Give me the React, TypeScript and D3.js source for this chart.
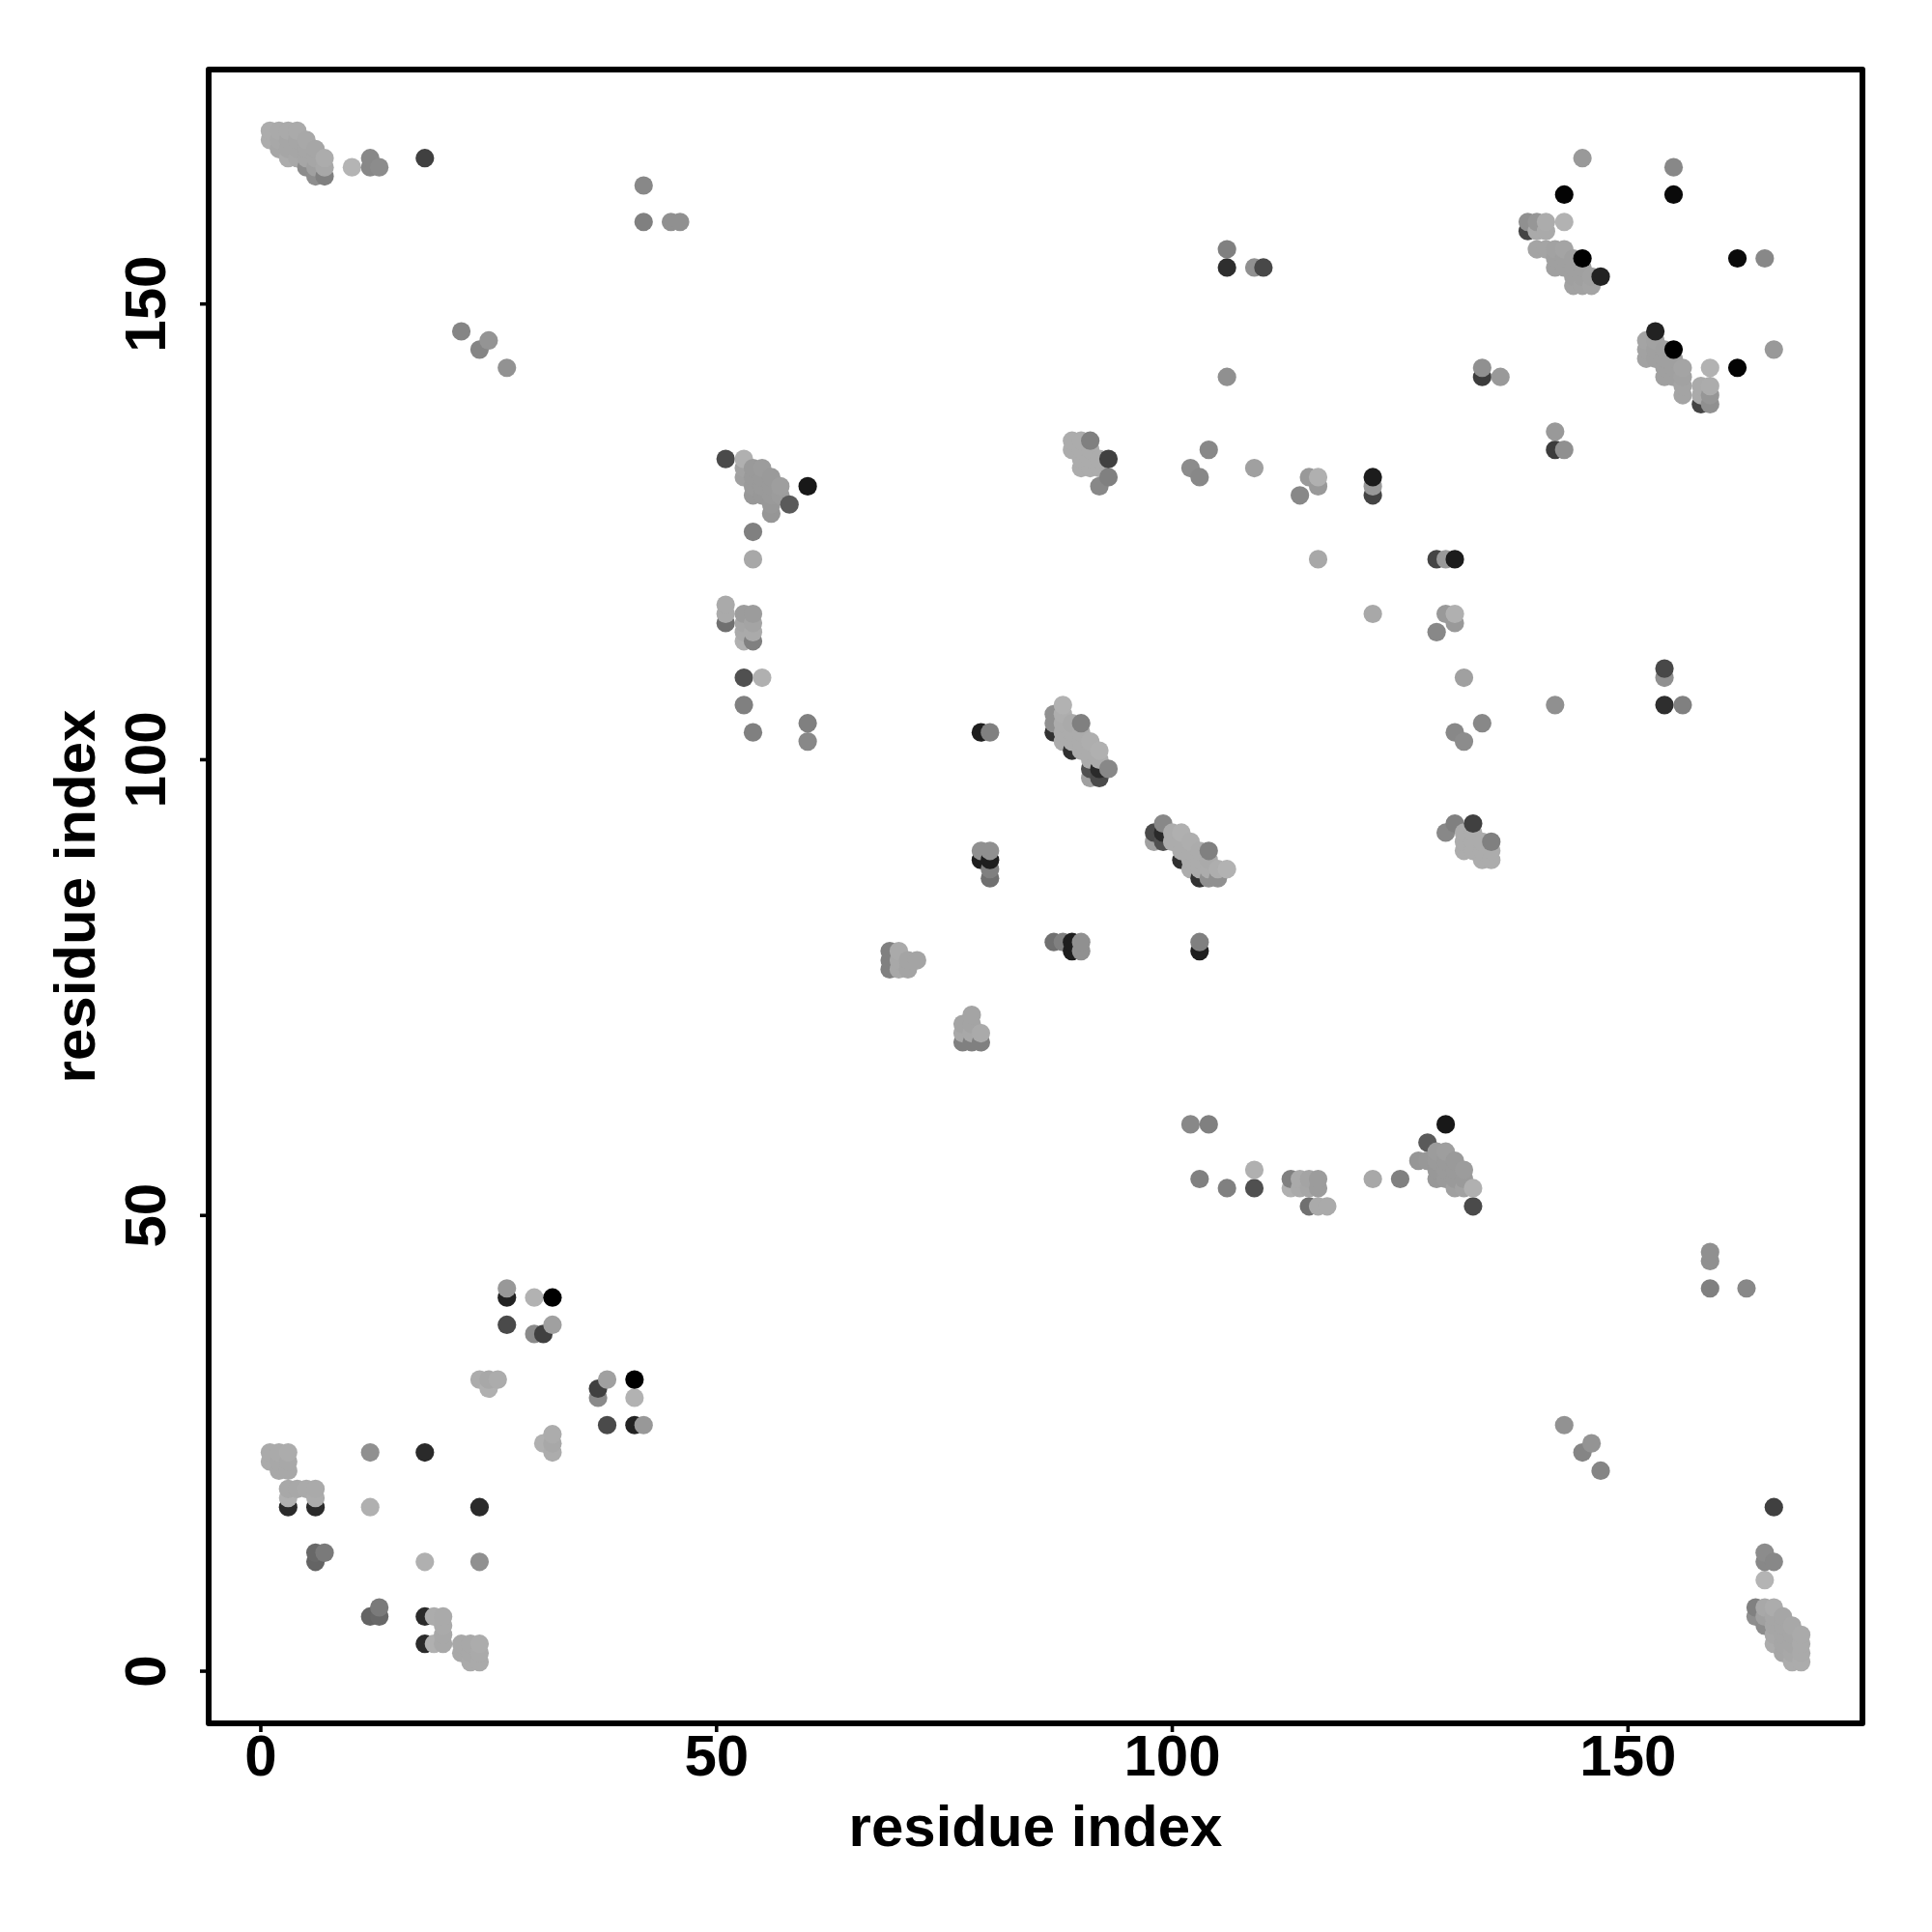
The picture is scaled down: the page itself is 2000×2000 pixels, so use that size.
import { useEffect, useRef } from "react";
import * as d3 from "d3";

// contacts are [residue i, residue j, shade], i < j; the map is symmetric so each one is drawn twice
const cornerContacts = [
  [1, 168, 172], [1, 169, 172], [2, 167, 166], [2, 168, 168], [2, 169, 170], [3, 166, 172],
  [3, 167, 166], [3, 168, 166], [3, 169, 170], [4, 166, 168], [4, 167, 166], [4, 168, 166],
  [4, 169, 170], [5, 165, 140], [5, 166, 166], [5, 167, 166], [5, 168, 168], [6, 164, 142],
  [6, 165, 160], [6, 166, 166], [6, 167, 166], [7, 164, 128], [7, 165, 168], [7, 166, 172],
  [10, 165, 180], [12, 165, 136], [12, 166, 136], [13, 165, 140], [18, 166, 64],
  [42, 159, 128], [42, 163, 136], [45, 159, 144], [46, 159, 144],
  [22, 147, 133], [24, 145, 133], [25, 146, 148], [27, 143, 146],
];

const lowContacts = [
  [1, 23, 170], [1, 24, 170], [2, 22, 168], [2, 23, 168], [2, 24, 170], [3, 22, 168],
  [3, 23, 168], [3, 24, 172], [3, 18, 42], [3, 19, 176], [3, 20, 168], [4, 20, 168],
  [5, 20, 170], [6, 18, 42], [6, 19, 172], [6, 20, 170], [6, 12, 100], [6, 13, 104],
  [7, 13, 122], [12, 18, 176], [12, 24, 144], [18, 24, 42],
  [24, 32, 172], [25, 31, 176], [25, 32, 168], [26, 32, 172],
  [27, 38, 74], [27, 41, 34], [27, 42, 152], [30, 37, 138], [30, 41, 178],
  [31, 37, 64], [32, 38, 160], [32, 41, 0],
];

const contacts50 = [
  [51, 133, 74], [53, 131, 160], [53, 132, 162], [53, 133, 176], [54, 129, 152], [54, 130, 154],
  [54, 131, 154], [54, 132, 154], [55, 129, 152], [55, 130, 154], [55, 131, 154], [55, 132, 156],
  [56, 127, 150], [56, 128, 152], [56, 129, 154], [56, 130, 154], [56, 131, 154], [57, 129, 156],
  [57, 130, 158], [58, 128, 90], [60, 130, 24], [54, 125, 128], [54, 122, 168],
  [51, 115, 112], [51, 116, 170], [51, 117, 170], [53, 113, 176], [53, 114, 170], [53, 115, 166],
  [53, 116, 156], [54, 113, 128], [54, 114, 170], [54, 115, 164], [54, 116, 156],
  [53, 106, 128], [53, 109, 80], [55, 109, 176], [54, 103, 128], [60, 102, 136], [60, 104, 128],
];

const contacts70 = [
  [69, 77, 128], [69, 78, 128], [69, 79, 128], [70, 77, 168], [70, 78, 168], [70, 79, 170],
  [71, 77, 164], [71, 78, 164], [72, 78, 164],
  [79, 89, 30], [79, 90, 144], [80, 87, 112], [80, 88, 128], [80, 89, 30], [80, 90, 144],
  [79, 103, 30], [80, 103, 128], [79, 103, 30],
];

const contacts90 = [
  [87, 103, 50], [87, 104, 144], [87, 105, 144], [88, 102, 172], [88, 103, 172], [88, 104, 172],
  [88, 105, 174], [88, 106, 178], [89, 101, 48], [89, 102, 172], [89, 103, 172], [89, 104, 170],
  [90, 101, 172], [90, 102, 172], [90, 103, 172], [90, 104, 128], [91, 98, 160], [91, 99, 80],
  [91, 100, 172], [91, 101, 172], [91, 102, 174], [92, 98, 74], [92, 99, 42], [92, 100, 172],
  [92, 101, 176], [93, 99, 136],
  [80, 87, 128], [80, 88, 128], [79, 89, 30], [80, 89, 30], [79, 90, 144], [80, 90, 144],
  [80, 103, 128],
  [89, 134, 172], [89, 135, 172], [90, 132, 172], [90, 133, 172], [90, 134, 172], [90, 135, 172],
  [91, 132, 172], [91, 133, 172], [91, 134, 172], [91, 135, 128], [92, 130, 136], [92, 132, 172],
  [92, 133, 172], [93, 131, 128], [93, 133, 64],
];

const contacts100 = [
  [102, 132, 140], [103, 131, 136], [104, 134, 136], [106, 142, 144], [106, 154, 46], [106, 156, 128],
  [109, 132, 160], [109, 154, 144], [110, 154, 72], [114, 129, 136], [115, 131, 153], [116, 130, 153],
  [116, 131, 176], [116, 122, 168], [122, 129, 68], [122, 130, 153], [122, 131, 28],
  [134, 142, 60], [134, 143, 144], [136, 142, 153],
];

const contacts140 = [
  [139, 158, 68], [139, 159, 144], [140, 158, 170], [140, 159, 150], [141, 158, 170], [141, 159, 172],
  [143, 159, 178], [140, 156, 164], [141, 156, 164], [142, 154, 160], [142, 155, 160], [142, 156, 162],
  [143, 154, 160], [143, 155, 160], [143, 156, 164], [144, 152, 162], [144, 153, 160], [144, 154, 160],
  [144, 155, 160], [145, 152, 162], [145, 153, 160], [145, 154, 160], [145, 155, 0], [146, 152, 164],
  [146, 153, 162], [147, 153, 34], [143, 162, 4], [155, 162, 10], [155, 165, 136],
  [145, 166, 153],
];

const tickLabels = [0, 50, 100, 150];
const axisTitle = "residue index";

const allContacts = [
  ...cornerContacts, ...lowContacts, ...contacts50, ...contacts70,
  ...contacts90, ...contacts100, ...contacts140,
];

export default function App() {
  const ref = useRef<SVGSVGElement | null>(null);

  useEffect(() => {
    if (!ref.current) return;
    const svg = d3.select(ref.current);
    svg.selectAll("*").remove();

    const left = 216, right = 1928, top = 72, bottom = 1784;
    const font = "'Liberation Sans', Helvetica, Arial, sans-serif";

    const x = d3.scaleLinear().domain([-5.72, 175.72]).range([left, right]);
    const y = d3.scaleLinear().domain([-5.72, 175.72]).range([bottom, top]);

    // both triangles, then x ascending and y ascending, later points sit on top
    const seen = new Set<string>();
    const points = allContacts
      .flatMap(([i, j, s]) => [{ px: i, py: j, s }, { px: j, py: i, s }])
      .filter((d) => {
        const key = d.px + "," + d.py;
        if (seen.has(key)) return false;
        seen.add(key);
        return true;
      })
      .sort((a, b) => d3.ascending(a.px, b.px) || d3.ascending(a.py, b.py));

    svg.append("g")
      .selectAll("circle")
      .data(points)
      .enter()
      .append("circle")
      .attr("cx", (d) => x(d.px))
      .attr("cy", (d) => y(d.py))
      .attr("r", 9.6)
      .attr("fill", (d) => d3.rgb(d.s, d.s, d.s).formatHex());

    svg.append("rect")
      .attr("x", left)
      .attr("y", top)
      .attr("width", right - left)
      .attr("height", bottom - top)
      .attr("fill", "none")
      .attr("stroke", "#000")
      .attr("stroke-width", 6)
      .attr("stroke-linejoin", "round");

    const xAxis = svg.append("g")
      .attr("transform", `translate(0, ${bottom})`)
      .call(d3.axisBottom(x).tickValues(tickLabels).tickSize(9).offset(0));
    const yAxis = svg.append("g")
      .attr("transform", `translate(${left}, 0)`)
      .call(d3.axisLeft(y).tickValues(tickLabels).tickSize(9).offset(0));

    xAxis.select(".domain").remove();
    yAxis.select(".domain").remove();
    svg.selectAll(".tick line").attr("stroke", "#000").attr("stroke-width", 3.6);

    xAxis.selectAll("text")
      .attr("y", 54)
      .attr("dy", 0)
      .attr("fill", "#000")
      .attr("font-family", font)
      .attr("font-weight", "bold")
      .attr("font-size", 60);

    yAxis.selectAll("text")
      .attr("x", 0)
      .attr("dy", 0)
      .attr("transform", "translate(-45, 0) rotate(-90)")
      .attr("text-anchor", "middle")
      .attr("fill", "#000")
      .attr("font-family", font)
      .attr("font-weight", "bold")
      .attr("font-size", 60);

    svg.append("text")
      .attr("x", (left + right) / 2)
      .attr("y", 1911)
      .attr("text-anchor", "middle")
      .attr("font-family", font)
      .attr("font-weight", "bold")
      .attr("font-size", 60)
      .text(axisTitle);

    svg.append("text")
      .attr("transform", `translate(98, ${(top + bottom) / 2}) rotate(-90)`)
      .attr("text-anchor", "middle")
      .attr("font-family", font)
      .attr("font-weight", "bold")
      .attr("font-size", 60)
      .text(axisTitle);
  }, []);

  return <svg ref={ref} width={2000} height={2000} style={{ position: "absolute", left: 0, top: 0, background: "#fff" }}></svg>;
}
